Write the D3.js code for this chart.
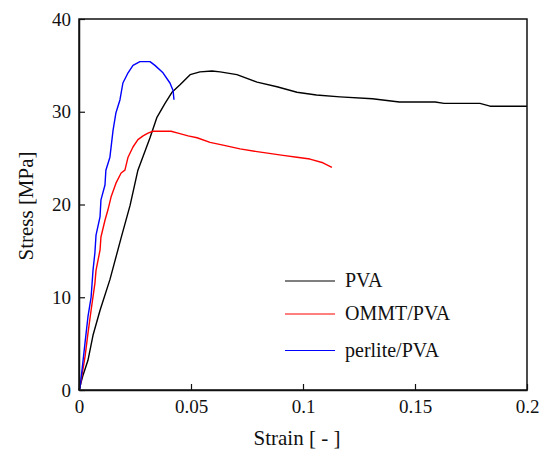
<!DOCTYPE html>
<html>
<head>
<meta charset="utf-8">
<script src="https://cdn.jsdelivr.net/npm/d3@7"></script>
<style>
  html, body { margin: 0; padding: 0; background: #fff; }
</style>
</head>
<body>
<svg id="chart" width="544" height="450"></svg>
<script>
// ---- data ----
const xTicks = [0, 0.05, 0.1, 0.15, 0.2];
const xTickLabels = ["0", "0.05", "0.1", "0.15", "0.2"];
const yTicks = [0, 10, 20, 30, 40];
const yTickLabels = ["0", "10", "20", "30", "40"];
const seriesNames = ["PVA", "OMMT/PVA", "perlite/PVA"];
const seriesColors = ["#000000", "#ff0000", "#0000ff"];

const pvaStrain = [0, 0.0018, 0.004, 0.00625, 0.0094, 0.0138, 0.0188, 0.0228, 0.0263, 0.0317, 0.0348, 0.0384, 0.0415, 0.0451, 0.0496, 0.054, 0.0594, 0.063, 0.0705, 0.0795, 0.0884, 0.0973, 0.106, 0.1165, 0.131, 0.143, 0.159, 0.163, 0.179, 0.1835, 0.2];
const pvaStress = [0, 1.6, 3.2, 5.9, 8.6, 11.9, 16.4, 19.9, 23.7, 27.2, 29.4, 30.9, 32.1, 32.9, 34.0, 34.3, 34.4, 34.3, 34.0, 33.2, 32.7, 32.1, 31.8, 31.6, 31.4, 31.05, 31.05, 30.9, 30.9, 30.6, 30.6];

const ommtStrain = [0, 0.00045, 0.0027, 0.004, 0.0054, 0.0071, 0.0076, 0.0094, 0.0098, 0.0116, 0.0129, 0.0143, 0.0165, 0.0188, 0.0205, 0.0219, 0.0241, 0.0263, 0.0286, 0.0308, 0.033, 0.0411, 0.0442, 0.0487, 0.0527, 0.0585, 0.0643, 0.0719, 0.0795, 0.0911, 0.0973, 0.1031, 0.1089, 0.1129];
const ommtStress = [0, 0.3, 3.6, 6.1, 8.6, 11.5, 12.9, 15.1, 16.5, 18.3, 19.4, 20.8, 22.3, 23.4, 23.7, 25.1, 26.2, 27.0, 27.4, 27.7, 27.9, 27.9, 27.7, 27.4, 27.2, 26.7, 26.4, 26.0, 25.7, 25.3, 25.1, 24.9, 24.5, 24.0];

const perliteStrain = [0, 0.00045, 0.0027, 0.004, 0.0054, 0.00625, 0.0071, 0.0076, 0.0094, 0.0098, 0.0116, 0.012, 0.0138, 0.0152, 0.0165, 0.0183, 0.0196, 0.0219, 0.0241, 0.0272, 0.0317, 0.0339, 0.0375, 0.0406, 0.042, 0.0424];
const perliteStress = [0, 0.2, 5.1, 7.9, 10.0, 12.9, 14.8, 16.7, 18.7, 20.5, 22.1, 23.7, 25.1, 28.0, 29.9, 31.3, 33.1, 34.2, 35.0, 35.4, 35.4, 35.0, 34.2, 33.1, 32.3, 31.3];

// ---- layout ----
const FONT = '"Liberation Serif"';
const svg = d3.select("#chart");
const mLeft = 79, mRight = 527, mTop = 19, mBottom = 390;
const x = d3.scaleLinear().domain([0, 0.2]).range([mLeft, mRight]);
const y = d3.scaleLinear().domain([0, 40]).range([mBottom, mTop]);

const series = [
  {name: seriesNames[0], color: seriesColors[0], xs: pvaStrain, ys: pvaStress},
  {name: seriesNames[1], color: seriesColors[1], xs: ommtStrain, ys: ommtStress},
  {name: seriesNames[2], color: seriesColors[2], xs: perliteStrain, ys: perliteStress}
];

const line = d3.line().x(d => x(d[0])).y(d => y(d[1]));

// Curves
series.forEach(s => {
  const pts = s.xs.map((v, i) => [v, s.ys[i]]);
  svg.append("path")
    .attr("d", line(pts))
    .attr("fill", "none")
    .attr("stroke", s.color)
    .attr("stroke-width", 1.4)
    .attr("stroke-linejoin", "round");
});

// Frame
svg.append("rect")
  .attr("x", mLeft).attr("y", mTop)
  .attr("width", mRight - mLeft).attr("height", mBottom - mTop)
  .attr("fill", "none").attr("stroke", "#111").attr("stroke-width", 1.5);

// X axis (inward ticks)
const xAxis = d3.axisBottom(x).tickValues(xTicks)
  .tickFormat((d, i) => xTickLabels[i])
  .tickSizeInner(-6).tickSizeOuter(0).tickPadding(10);
const gx = svg.append("g").attr("transform", `translate(0,${mBottom})`).call(xAxis);
gx.attr("font-family", null).attr("font-size", null);
gx.select(".domain").attr("stroke", "#111").attr("stroke-width", 1.5);
gx.selectAll(".tick line").attr("stroke", "#111").attr("stroke-width", 1.2);
gx.selectAll(".tick text").style("font-family", FONT).style("font-size", "19px").attr("fill", "#111");

// Y axis (inward ticks)
const yAxis = d3.axisLeft(y).tickValues(yTicks)
  .tickFormat((d, i) => yTickLabels[i])
  .tickSizeInner(-6).tickSizeOuter(0).tickPadding(8);
const gy = svg.append("g").attr("transform", `translate(${mLeft},0)`).call(yAxis);
gy.attr("font-family", null).attr("font-size", null);
gy.select(".domain").attr("stroke", "#111").attr("stroke-width", 1.5);
gy.selectAll(".tick line").attr("stroke", "#111").attr("stroke-width", 1.2);
gy.selectAll(".tick text").style("font-family", FONT).style("font-size", "19px").attr("fill", "#111");

// Axis titles
svg.append("text")
  .attr("x", 297).attr("y", 445)
  .attr("text-anchor", "middle")
  .style("font-family", FONT).style("font-size", "21px").attr("fill", "#111")
  .text("Strain [ - ]");
svg.append("text")
  .attr("transform", `translate(33,206) rotate(-90)`)
  .attr("text-anchor", "middle")
  .style("font-family", FONT).style("font-size", "21px").attr("fill", "#111")
  .text("Stress [MPa]");

// Legend
const legY = [281, 314, 350.5];
series.forEach((s, i) => {
  svg.append("line")
    .attr("x1", 285).attr("x2", 335)
    .attr("y1", legY[i]).attr("y2", legY[i])
    .attr("stroke", s.color).attr("stroke-width", 1.2);
  svg.append("text")
    .attr("x", 345).attr("y", legY[i] + 6)
    .style("font-family", FONT).style("font-size", "20px").attr("fill", "#111")
    .text(s.name);
});
</script>
</body>
</html>
